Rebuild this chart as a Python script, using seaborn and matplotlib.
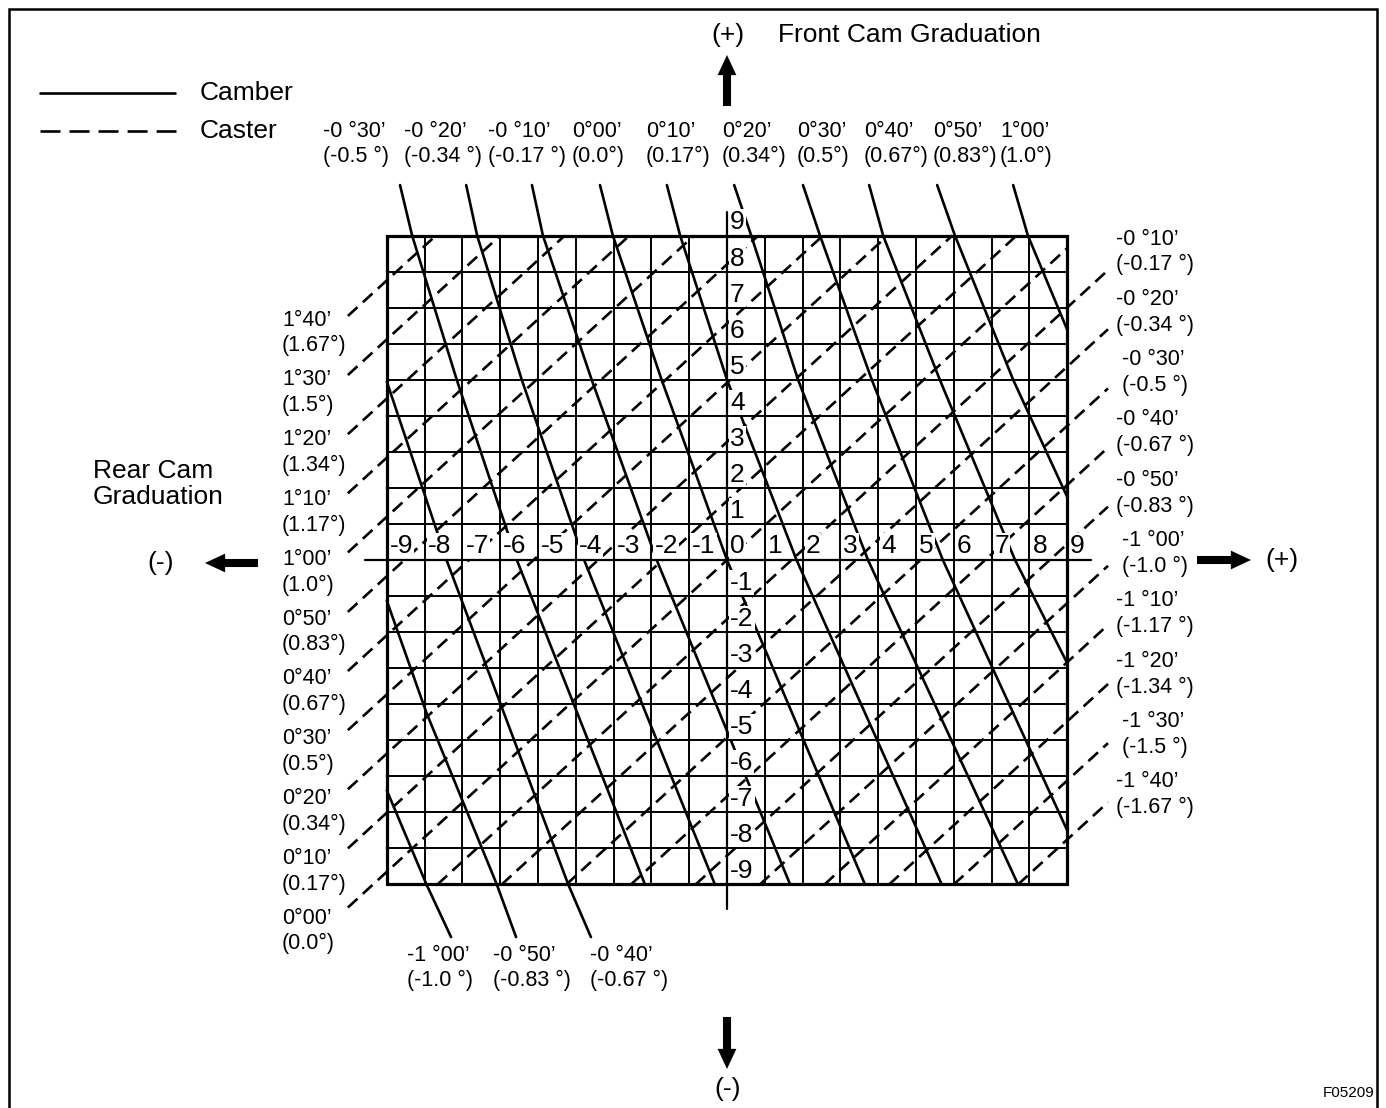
import numpy as np
import pandas as pd
import matplotlib
matplotlib.use("Agg")
import matplotlib.pyplot as plt
import seaborn as sns
from matplotlib.patches import FancyArrowPatch, ArrowStyle

sns.set_theme(style="white")
plt.rcParams['font.family'] = ['Liberation Sans', 'DejaVu Sans']
plt.rcParams['lines.scale_dashes'] = False
plt.rcParams['text.color'] = 'black'

# ---------------------------------------------------------------- data
GRID_TICKS = list(range(-9, 10))          # rear (x) and front (y) cam graduations

# Camber lines (solid) : value, label, points (rear cam, front cam)
CAMBER_DEG = [-1.0, -0.83, -0.67, -0.5, -0.34, -0.17, 0.0, 0.17, 0.34, 0.5, 0.67, 0.83, 1.0]
CAMBER_DMS = ["-1 °00’", "-0 °50’", "-0 °40’", "-0 °30’", "-0 °20’", "-0 °10’",
              "0°00’", "0°10’", "0°20’", "0°30’", "0°40’", "0°50’", "1°00’"]
CAMBER_TXT = ["(-1.0 °)", "(-0.83 °)", "(-0.67 °)", "(-0.5 °)", "(-0.34 °)", "(-0.17 °)",
              "(0.0°)", "(0.17°)", "(0.34°)", "(0.5°)", "(0.67°)", "(0.83°)", "(1.0°)"]
CAMBER_REAR = [
    [-9.00, -7.95, -7.30],
    [-9.00, -7.95, -6.09, -5.58],
    [-9.00, -7.42, -4.20, -3.60],
    [-8.65, -8.33, -7.15, -5.56, -2.17],
    [-6.90, -6.61, -5.43, -3.78, -0.32],
    [-5.16, -4.87, -3.58, -1.86, 1.67],
    [-3.36, -3.02, -1.73, 0.00, 3.65],
    [-1.59, -1.24, 0.00, 1.84, 5.68],
    [0.19, 0.64, 1.88, 3.73, 7.70],
    [2.01, 2.46, 3.83, 5.71, 9.00],
    [3.76, 4.13, 5.63, 7.62, 9.00],
    [5.56, 6.03, 7.57, 9.00],
    [7.57, 7.96, 9.00],
]
CAMBER_FRONT = [
    [-6.39, -9.00, -10.46],
    [-1.13, -4.24, -9.00, -10.46],
    [4.95, 0.00, -9.00, -10.46],
    [10.40, 9.00, 5.00, 0.00, -9.00],
    [10.40, 9.00, 5.00, 0.00, -9.00],
    [10.40, 9.00, 5.00, 0.00, -9.00],
    [10.40, 9.00, 5.00, 0.00, -9.00],
    [10.40, 9.00, 5.00, 0.00, -9.00],
    [10.40, 9.00, 5.00, 0.00, -9.00],
    [10.40, 9.00, 5.00, 0.00, -7.50],
    [10.40, 9.00, 5.00, 0.00, -2.86],
    [10.40, 9.00, 5.00, 1.75],
    [10.40, 9.00, 6.39],
]

# Caster lines (dashed) : value, label, start and end points (rear cam, front cam)
CASTER_DEG = [1.67, 1.5, 1.34, 1.17, 1.0, 0.83, 0.67, 0.5, 0.34, 0.17, 0.0,
              -0.17, -0.34, -0.5, -0.67, -0.83, -1.0, -1.17, -1.34, -1.5, -1.67]
CASTER_DMS = ["1°40’", "1°30’", "1°20’", "1°10’", "1°00’", "0°50’", "0°40’", "0°30’",
              "0°20’", "0°10’", "0°00’",
              "-0 °10’", "-0 °20’", "-0 °30’", "-0 °40’", "-0 °50’",
              "-1 °00’", "-1 °10’", "-1 °20’", "-1 °30’", "-1 °40’"]
CASTER_TXT = ["(1.67°)", "(1.5°)", "(1.34°)", "(1.17°)", "(1.0°)", "(0.83°)", "(0.67°)",
              "(0.5°)", "(0.34°)", "(0.17°)", "(0.0°)",
              "(-0.17 °)", "(-0.34 °)", "(-0.5 °)", "(-0.67 °)", "(-0.83 °)",
              "(-1.0 °)", "(-1.17 °)", "(-1.34 °)", "(-1.5 °)", "(-1.67 °)"]
CASTER_R0 = [-10.03] * 11 + [-7.66, -5.96, -4.25, -2.54, -0.83, 0.87, 2.58, 4.29, 6.00, 7.70]
CASTER_F0 = [6.77, 5.13, 3.49, 1.85, 0.21, -1.44, -3.08, -4.72, -6.36, -8.00, -9.64] + [-9.0] * 10
CASTER_R1 = [-7.70, -6.00, -4.29, -2.58, -0.87, 0.83, 2.54, 4.25, 5.96, 7.66, 9.00] + [10.08] * 10
CASTER_F1 = [9.0] * 10 + [8.65] + [8.04, 6.40, 4.76, 3.12, 1.48, -0.16, -1.80, -3.44, -5.08, -6.72]

# ---------------------------------------------------------------- layout helpers (pixels -> data)
X0, Y0, SX, SY = 727.0, 560.0, 37.8, 36.05
W, H = 1386, 1108


def px(x):
    return (x - X0) / SX


def py(y):
    return (Y0 - y) / SY


def P(x, y):
    return (px(x), py(y))


fig = plt.figure(figsize=(W / 100, H / 100), dpi=100)
ax = fig.add_axes([0, 0, 1, 1])

# ---------------------------------------------------------------- lines via seaborn
rows = []
for i, (rr, ff) in enumerate(zip(CAMBER_REAR, CAMBER_FRONT)):
    for k, (r, f) in enumerate(zip(rr, ff)):
        rows.append(dict(line=i, order=k, rear=r, front=f, camber=CAMBER_DEG[i]))
df_camber = pd.DataFrame(rows)

rows = []
for i in range(len(CASTER_DEG)):
    rows.append(dict(line=i, order=0, rear=CASTER_R0[i], front=CASTER_F0[i], caster=CASTER_DEG[i]))
    rows.append(dict(line=i, order=1, rear=CASTER_R1[i], front=CASTER_F1[i], caster=CASTER_DEG[i]))
df_caster = pd.DataFrame(rows)

sns.lineplot(data=df_camber, x="rear", y="front", units="line", estimator=None,
             sort=False, color="black", linewidth=1.9, ax=ax, legend=False, zorder=2)
n_before = len(ax.get_lines())
sns.lineplot(data=df_caster, x="rear", y="front", units="line", estimator=None,
             sort=False, color="black", linewidth=1.9, ax=ax, legend=False, zorder=2)
for ln in ax.get_lines()[n_before:]:
    ln.set_linestyle((0, (9.4, 5.2)))
    ln.set_dash_capstyle("butt")

# ---------------------------------------------------------------- grid
lo, hi = GRID_TICKS[0], GRID_TICKS[-1]
ax.vlines(GRID_TICKS[1:-1], lo, hi, color="black", lw=1.4, zorder=4)
ax.hlines(GRID_TICKS[1:-1], lo, hi, color="black", lw=1.4, zorder=4)
ax.plot([lo, hi, hi, lo, lo], [lo, lo, hi, hi, lo], color="black", lw=2.3, zorder=4,
        solid_joinstyle="miter")
# axes cross
ax.plot([0, 0], [9.65, -9.67], color="black", lw=1.6, zorder=4)
ax.plot([-9.58, 9.62], [0, 0], color="black", lw=1.6, zorder=4)

num_kw = dict(fontsize=19, zorder=3, color="black",
              bbox=dict(boxstyle="square,pad=0.04", fc="white", ec="none"))
for t in GRID_TICKS:
    ax.text(t + 0.08, 0.05, f"{t}", ha="left", va="bottom", **num_kw)
    if t != 0:
        ax.text(0.08, t + 0.03, f"{t}", ha="left", va="bottom", **num_kw)

# ---------------------------------------------------------------- labels
lab_kw = dict(fontsize=15.5, linespacing=1.3, color="black")

# top camber labels (10 lines ending at the top)
top_x = [323, 404, 488, 572, 646, 722, 797, 864, 933, 1000]
for j, x in enumerate(top_x):
    i = 3 + j
    ax.text(*P(x, 144), f"{CAMBER_DMS[i]}\n{CAMBER_TXT[i]}", ha="left", va="center", **lab_kw)

# bottom camber labels
bot_x = [407, 493, 590]
for j, x in enumerate(bot_x):
    ax.text(*P(x, 968), f"{CAMBER_DMS[j]}\n{CAMBER_TXT[j]}", ha="left", va="center", **lab_kw)

# left caster labels
for j in range(11):
    ax.text(*P(282, 333 + 59.8 * j), f"{CASTER_DMS[j]}\n{CASTER_TXT[j]}",
            ha="left", va="center", **lab_kw)

# right caster labels
for j in range(10):
    ax.text(*P(1155, 252 + 60.3 * j), f"{CASTER_DMS[11 + j]}\n{CASTER_TXT[11 + j]}",
            ha="center", va="center", multialignment="left", **lab_kw)

big = dict(fontsize=19, color="black")
ax.text(*P(728, 35), "(+)", ha="center", va="center", **big)
ax.text(*P(778, 35), "Front Cam Graduation", ha="left", va="center", **big)
ax.text(*P(93, 484), "Rear Cam\nGraduation", ha="left", va="center", linespacing=1.12, **big)
ax.text(*P(161, 563), "(-)", ha="center", va="center", **big)
ax.text(*P(1282, 560), "(+)", ha="center", va="center", **big)
ax.text(*P(728, 1089), "(-)", ha="center", va="center", **big)
ax.text(*P(1375, 1093), "F05209", ha="right", va="center", fontsize=11, color="black")

# legend
ax.plot([px(40), px(175)], [py(93), py(93)], color="black", lw=1.9)
ax.text(*P(200, 93), "Camber", ha="left", va="center", **big)
ax.plot([px(40), px(176)], [py(131), py(131)], color="black", lw=1.9,
        linestyle=(0, (14.4, 6.5)), dash_capstyle="butt")
ax.text(*P(200, 131), "Caster", ha="left", va="center", **big)

# arrows
style = ArrowStyle.Simple(head_length=14.5, head_width=13.5, tail_width=5.8)
for (xa, ya), (xb, yb) in [((727, 106), (727, 55)), ((727, 1017), (727, 1069)),
                           ((258, 563), (205, 563)), ((1197, 560), (1251, 560))]:
    ax.add_patch(FancyArrowPatch(P(xa, ya), P(xb, yb), arrowstyle=style, mutation_scale=1,
                                 shrinkA=0, shrinkB=0, color="black", lw=0))

# frame
ax.plot([px(9), px(9), px(1377), px(1377)], [py(1108), py(9), py(9), py(1108)],
        color="black", lw=1.8, solid_joinstyle="miter")

ax.set_xlim(px(0), px(W))
ax.set_ylim(py(H), py(0))
ax.axis("off")
fig.savefig("out.png", dpi=100)
